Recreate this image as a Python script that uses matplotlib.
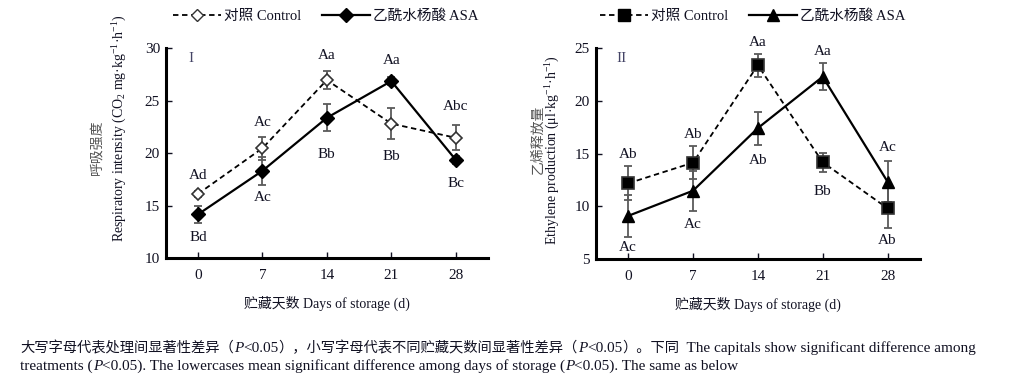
import matplotlib
matplotlib.use('Agg')
import matplotlib.pyplot as plt
from matplotlib.lines import Line2D

plt.rcParams['font.family'] = ['Liberation Serif', 'Noto Sans CJK SC']
plt.rcParams['mathtext.fontset'] = 'custom'
plt.rcParams['mathtext.rm'] = 'Liberation Serif'
plt.rcParams['mathtext.it'] = 'Liberation Serif:italic'

days = [0, 7, 14, 21, 28]

# panel I - respiratory intensity
resp_ck = [16.1, 20.45, 26.95, 22.8, 21.45]
resp_ck_err = [0.3, 1.1, 0.9, 1.45, 1.2]
resp_asa = [14.15, 18.3, 23.35, 26.85, 19.35]
resp_asa_err = [0.8, 1.3, 1.3, 0.4, 0.4]
resp_lab_top = ['Ad', 'Ac', 'Aa', 'Aa', 'Abc']
resp_lab_top_y = [17.9, 22.9, 29.3, 28.85, 24.4]
resp_lab_bot = ['Bd', 'Ac', 'Bb', 'Bb', 'Bc']
resp_lab_bot_y = [12.0, 15.8, 19.9, 19.7, 17.1]

# panel II - ethylene production
eth_ck = [12.18, 14.13, 23.35, 14.17, 9.82]
eth_ck_err = [1.6, 1.55, 1.1, 0.9, 1.9]
eth_asa = [9.1, 11.48, 17.4, 22.26, 12.33]
eth_asa_err = [2.0, 1.9, 1.55, 1.3, 1.95]
eth_lab_top = ['Ab', 'Ab', 'Aa', 'Aa', 'Ac']
eth_lab_top_y = [14.86, 16.75, 25.5, 24.6, 15.6]
eth_lab_bot = ['Ac', 'Ac', 'Ab', 'Bb', 'Ab']
eth_lab_bot_y = [6.1, 8.25, 14.3, 11.45, 6.75]

TXT = '#111122'
ERR = '#5a5a5a'
FS = 11

fig = plt.figure(figsize=(10.12, 3.76), dpi=100)
ax1 = fig.add_axes([0.1637, 0.3138, 0.3185, 0.5585])
ax2 = fig.add_axes([0.5886, 0.3104, 0.3205, 0.5627])


def draw(ax, ck, ck_err, asa, asa_err, mk_ck, mk_asa, ck_face, ms_ck, ms_asa):
    ax.errorbar(days, ck, yerr=ck_err, fmt='none', ecolor=ERR, elinewidth=1.3, capsize=3, capthick=1.3, zorder=2)
    ax.errorbar(days, asa, yerr=asa_err, fmt='none', ecolor=ERR, elinewidth=1.3, capsize=3, capthick=1.3, zorder=2)
    ax.plot(days, ck, ls=(0, (3, 2)), color='black', lw=1.3, marker=mk_ck, ms=ms_ck,
            mfc=ck_face, mec='#333333', mew=1.2, zorder=3)
    ax.plot(days, asa, ls='-', color='black', lw=1.6, marker=mk_asa, ms=ms_asa,
            mfc='black', mec='black', zorder=3)
    for s in ['top', 'right']:
        ax.spines[s].set_visible(False)
    for s in ['left', 'bottom']:
        ax.spines[s].set_linewidth(2.2)
    ax.set_xlim(-3.5, 31.5)
    ax.set_xticks(days)
    ax.tick_params(axis='both', direction='in', length=4, width=1, labelsize=FS, colors=TXT)
    ax.tick_params(axis='x', pad=8)
    ax.tick_params(axis='y', pad=4)


draw(ax1, resp_ck, resp_ck_err, resp_asa, resp_asa_err, 'D', 'D', 'white', 6, 7)
ax1.set_ylim(10, 30)
ax1.set_yticks([10, 15, 20, 25, 30])
for d, t, y in zip(days, resp_lab_top, resp_lab_top_y):
    ax1.text(d, y, t, ha='center', va='center', fontsize=FS, color=TXT)
for d, t, y in zip(days, resp_lab_bot, resp_lab_bot_y):
    ax1.text(d, y, t, ha='center', va='center', fontsize=FS, color=TXT)
ax1.text(-0.8, 29.0, 'I', ha='center', va='center', fontsize=FS, color='#444466')

draw(ax2, eth_ck, eth_ck_err, eth_asa, eth_asa_err, 's', '^', 'black', 8, 8)
ax2.set_ylim(5, 25)
ax2.set_yticks([5, 10, 15, 20, 25])
for d, t, y in zip(days, eth_lab_top, eth_lab_top_y):
    ax2.text(d, y, t, ha='center', va='center', fontsize=FS, color=TXT)
for d, t, y in zip(days, eth_lab_bot, eth_lab_bot_y):
    ax2.text(d, y, t, ha='center', va='center', fontsize=FS, color=TXT)
ax2.text(-0.7, 24.0, 'II', ha='center', va='center', fontsize=FS, color='#444466')

# x labels
for ax in (ax1, ax2):
    ax.set_xlabel('贮藏天数 Days of storage (d)', fontsize=10, color=TXT, labelpad=10)

# y labels (two lines, Chinese in grey)
fig.text(97 / 1012, 1 - 147 / 376, '呼吸强度', rotation=90, ha='center', va='center', fontsize=10, color='#555555')
fig.text(120 / 1012, 1 - 128 / 376, 'Respiratory intensity (CO$_2$ mg·kg$^{-1}$·h$^{-1}$)', rotation=90,
         ha='center', va='center', fontsize=10, color=TXT)
fig.text(538 / 1012, 1 - 139 / 376, '乙烯释放量', rotation=90, ha='center', va='center', fontsize=10, color='#555555')
fig.text(553 / 1012, 1 - 150 / 376, 'Ethylene production (μl·kg$^{-1}$·h$^{-1}$)', rotation=90,
         ha='center', va='center', fontsize=10, color=TXT)

# legends
h1 = [Line2D([], [], ls=(0, (3, 2)), color='black', lw=1.3, marker='D', ms=6, mfc='white', mec='#333333'),
      Line2D([], [], ls='-', color='black', lw=1.6, marker='D', ms=7, mfc='black')]
h2 = [Line2D([], [], ls=(0, (3, 2)), color='black', lw=1.3, marker='s', ms=8, mfc='black'),
      Line2D([], [], ls='-', color='black', lw=1.6, marker='^', ms=8, mfc='black')]
labels = ['对照 Control', '乙酰水杨酸 ASA']
for h, x0 in ((h1, 167), (h2, 594)):
    fig.legend(h, labels, loc='center left', bbox_to_anchor=(x0 / 1012, 1 - 16 / 376), ncol=2, frameon=False,
               fontsize=10.5, handlelength=3.3, columnspacing=1.4, handletextpad=0.2, borderaxespad=0,
               labelcolor=TXT)

# caption, written piece by piece: (text, style, size)
cap_line1 = [('大写字母代表处理间显著性差异（', 'normal', 10.3), ('P', 'italic', 11), ('<0.05', 'normal', 11),
             ('），小写字母代表不同贮藏天数间显著性差异（', 'normal', 10.3), ('P', 'italic', 11),
             ('<0.05', 'normal', 11), ('）。下同', 'normal', 10.3),
             ('  The capitals show significant difference among', 'normal', 11)]
cap_line2 = [('treatments (', 'normal', 11), ('P', 'italic', 11),
             ('<0.05). The lowercases mean significant difference among days of storage (', 'normal', 11),
             ('P', 'italic', 11), ('<0.05). The same as below', 'normal', 11)]

renderer = fig.canvas.get_renderer()
for pieces, ypix in ((cap_line1, 352), (cap_line2, 370)):
    x = 20 / 1012
    for s, st, sz in pieces:
        t = fig.text(x, 1 - ypix / 376, s, ha='left', va='baseline', fontsize=sz, style=st, color=TXT)
        x += t.get_window_extent(renderer).width / fig.bbox.width

fig.savefig('out.png', dpi=100)
